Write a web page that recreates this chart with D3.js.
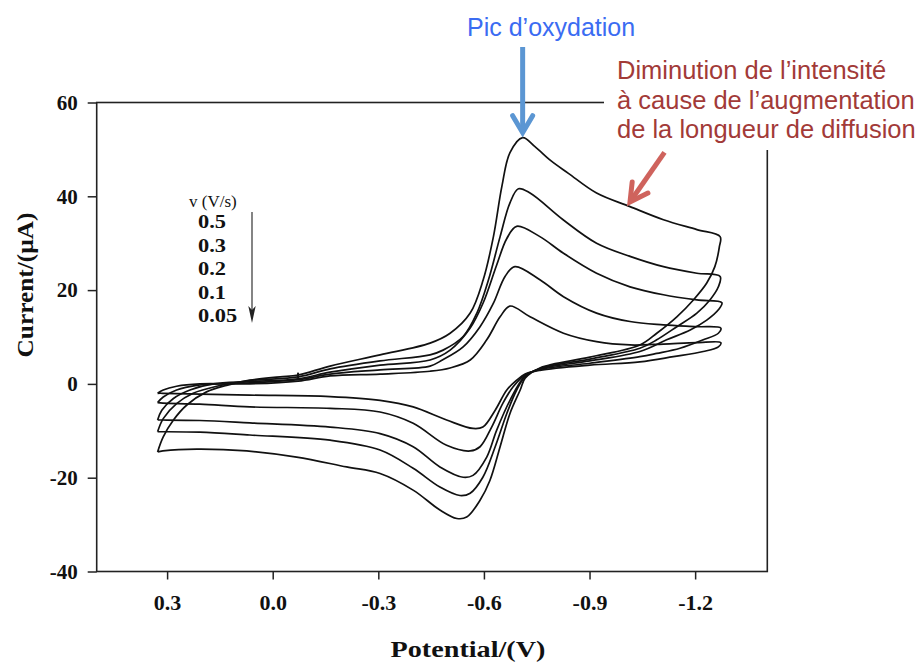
<!DOCTYPE html>
<html><head><meta charset="utf-8">
<script src="https://cdn.jsdelivr.net/npm/d3@7"></script>
<style>body{margin:0;background:#fff} svg{display:block}</style>
</head><body>
<svg id="c" width="921" height="662"></svg>
<script>
// ---- data (potential V, current µA), each loop traced around the cycle ----
const scanRates = ["0.5", "0.3", "0.2", "0.1", "0.05"];
const cv050 = [[0.327,-14.5],[0.311,-11.3],[0.282,-7.7],[0.244,-4.5],[0.188,-1.7],[0.131,-0.3],[0.065,0.8],[-0.021,1.5],[-0.072,1.9],[-0.163,3.8],[-0.305,6.2],[-0.447,8.7],[-0.504,10.8],[-0.561,15.1],[-0.598,22.2],[-0.627,31.4],[-0.651,42.1],[-0.674,49.3],[-0.710,52.5],[-0.745,50.6],[-0.790,47.6],[-0.840,44.9],[-0.920,40.7],[-1.015,37.8],[-1.110,35.0],[-1.205,32.9],[-1.271,31.4],
  [-1.269,29.3],[-1.256,25.0],[-1.233,21.5],[-1.195,17.9],[-1.148,14.3],[-1.091,10.8],[-1.043,8.3],[-0.901,5.7],[-0.759,3.4],[-0.717,1.2],[-0.703,-1.3],[-0.674,-6.3],[-0.646,-13.4],[-0.617,-20.6],[-0.589,-24.8],[-0.551,-28.4],[-0.523,-28.7],[-0.475,-26.9],[-0.400,-22.7],[-0.305,-19.1],[-0.210,-17.7],[-0.068,-15.6],[0.074,-14.3],[0.216,-13.9],[0.312,-14.3],[0.327,-14.5]];
const cv030 = [[0.327,-10.2],[0.311,-7.4],[0.273,-4.2],[0.226,-2.0],[0.159,-0.5],[0.065,0.7],[-0.072,1.5],[-0.163,3.2],[-0.305,4.9],[-0.447,6.2],[-0.484,7.2],[-0.541,10.1],[-0.580,15.1],[-0.613,22.2],[-0.646,31.4],[-0.674,38.6],[-0.698,41.6],[-0.731,40.7],[-0.825,35.0],[-0.920,30.0],[-1.015,27.2],[-1.110,25.0],[-1.205,23.6],[-1.271,22.9],
  [-1.266,20.7],[-1.242,17.9],[-1.205,15.1],[-1.148,12.2],[-1.091,9.4],[-1.043,7.6],[-0.901,5.3],[-0.759,3.3],[-0.717,1.5],[-0.693,-1.3],[-0.665,-6.3],[-0.632,-13.4],[-0.597,-19.9],[-0.561,-23.3],[-0.532,-23.8],[-0.475,-22.0],[-0.399,-18.0],[-0.305,-14.1],[-0.163,-12.0],[0.065,-10.9],[0.207,-10.3],[0.312,-10.2],[0.327,-10.2]];
const cv020 = [[0.327,-7.7],[0.315,-5.6],[0.282,-3.1],[0.235,-1.3],[0.169,0.0],[0.065,0.5],[-0.072,1.1],[-0.163,2.5],[-0.305,4.0],[-0.447,5.1],[-0.504,7.2],[-0.561,11.9],[-0.598,17.3],[-0.636,25.3],[-0.665,31.0],[-0.693,33.6],[-0.759,31.4],[-0.825,27.9],[-0.920,23.6],[-1.015,20.7],[-1.110,19.0],[-1.205,17.9],[-1.276,17.3],
  [-1.266,15.8],[-1.233,13.6],[-1.186,11.5],[-1.119,9.4],[-1.043,6.9],[-0.901,4.9],[-0.759,3.2],[-0.717,1.7],[-0.674,-3.5],[-0.636,-9.9],[-0.608,-15.6],[-0.569,-19.5],[-0.541,-19.9],[-0.475,-17.7],[-0.399,-13.4],[-0.305,-10.6],[-0.163,-9.2],[0.065,-8.3],[0.207,-7.8],[0.312,-7.7],[0.327,-7.7]];
const cv010 = [[0.327,-4.0],[0.311,-2.8],[0.273,-1.3],[0.216,-0.3],[0.065,0.2],[-0.072,0.9],[-0.163,2.1],[-0.305,3.0],[-0.447,3.8],[-0.482,5.1],[-0.541,7.9],[-0.589,12.2],[-0.627,17.2],[-0.660,22.9],[-0.688,25.0],[-0.759,22.2],[-0.826,18.6],[-0.920,15.1],[-1.015,13.3],[-1.110,12.6],[-1.205,12.2],[-1.273,11.9],
  [-1.266,10.8],[-1.223,9.4],[-1.157,7.6],[-1.091,6.5],[-1.043,5.8],[-0.901,4.4],[-0.759,3.1],[-0.717,1.9],[-0.683,-0.6],[-0.654,-4.1],[-0.622,-9.2],[-0.589,-13.4],[-0.561,-14.3],[-0.494,-13.1],[-0.399,-8.4],[-0.305,-6.0],[-0.163,-5.2],[0.065,-4.9],[0.207,-4.3],[0.312,-4.1],[0.327,-4.0]];
const cv005 = [[0.327,-2.0],[0.311,-1.3],[0.273,-0.5],[0.207,0.0],[0.065,0.0],[-0.072,0.6],[-0.163,1.7],[-0.305,2.1],[-0.447,2.7],[-0.504,3.4],[-0.561,5.1],[-0.608,9.4],[-0.646,14.3],[-0.674,16.6],[-0.731,14.3],[-0.826,10.8],[-0.920,9.0],[-1.015,8.3],[-1.110,8.5],[-1.205,8.8],[-1.273,8.8],
  [-1.266,7.9],[-1.223,6.9],[-1.138,5.8],[-1.043,4.7],[-0.901,4.0],[-0.759,2.9],[-0.717,2.1],[-0.693,0.8],[-0.665,-1.3],[-0.632,-5.6],[-0.597,-9.2],[-0.569,-9.5],[-0.494,-7.7],[-0.399,-4.9],[-0.305,-3.5],[-0.163,-2.7],[0.065,-2.4],[0.207,-2.2],[0.312,-2.0],[0.327,-2.0]];
const startStep = [[-0.072,1.2],[-0.072,2.4]];
const xTicks = [0.3, 0.0, -0.3, -0.6, -0.9, -1.2];
const yTicks = [-40, -20, 0, 20, 40, 60];
const xTitle = "Potential/(V)";
const yTitle = "Current/(\u00B5A)";
const legendTitle = "v (V/s)";
const noteBlue = "Pic d\u2019oxydation";
const noteRed = ["Diminution de l\u2019intensit\u00E9", "\u00E0 cause de l\u2019augmentation", "de la longueur de diffusion"];

// ---- drawing ----
const svg = d3.select("#c");
const serif = "'Liberation Serif','Times New Roman',Times,serif";
const sans = "'Liberation Sans',Arial,Helvetica,sans-serif";
const x = d3.scaleLinear().domain([0.5, -1.405]).range([96.7, 767.3]);
const y = d3.scaleLinear().domain([-40, 60]).range([571.5, 102.5]);
const fmt = v => d3.format(".1f")(v).replace("\u2212", "-");

// frame
svg.append("rect").attr("x", x.range()[0]).attr("y", y.range()[1])
  .attr("width", x.range()[1] - x.range()[0]).attr("height", y.range()[0] - y.range()[1])
  .attr("fill", "none").attr("stroke", "#222").attr("stroke-width", 1.6);

const gx = svg.append("g").attr("transform", `translate(0,${y.range()[0]})`)
  .call(d3.axisBottom(x).tickValues(xTicks).tickFormat(fmt).tickSize(8).tickPadding(14.5));
const gy = svg.append("g").attr("transform", `translate(${x.range()[0]},0)`)
  .call(d3.axisLeft(y).tickValues(yTicks).tickFormat(d => d3.format("d")(d).replace("\u2212", "-")).tickSize(9).tickPadding(10));
[gx, gy].forEach(g => {
  g.select(".domain").remove();
  g.selectAll(".tick line").attr("stroke", "#222").attr("stroke-width", 1.5);
  g.selectAll(".tick text").attr("fill", "#111").attr("font-family", serif).attr("font-weight", "bold");
});
gx.selectAll(".tick text").attr("font-size", 22);
gy.selectAll(".tick text").attr("font-size", 21);

// axis titles
svg.append("text").attr("x", 468).attr("y", 657).attr("text-anchor", "middle")
  .attr("font-family", serif).attr("font-weight", "bold").attr("font-size", 23).attr("fill", "#111")
  .attr("textLength", 155).attr("lengthAdjust", "spacingAndGlyphs").text(xTitle);
svg.append("text").attr("transform", "translate(33,285) rotate(-90)").attr("text-anchor", "middle")
  .attr("font-family", serif).attr("font-weight", "bold").attr("font-size", 23).attr("fill", "#111")
  .attr("textLength", 145).attr("lengthAdjust", "spacingAndGlyphs").text(yTitle);

// CV loops
const line = d3.line().x(d => x(d[0])).y(d => y(d[1])).curve(d3.curveCatmullRom.alpha(0.5));
const loops = [cv050, cv030, cv020, cv010, cv005];
svg.append("g").selectAll("path").data(loops).join("path")
  .attr("d", line).attr("fill", "none").attr("stroke", "#111")
  .attr("stroke-width", 1.7).attr("stroke-linejoin", "round");
svg.append("path").attr("d", d3.line().x(d => x(d[0])).y(d => y(d[1]))(startStep))
  .attr("stroke", "#111").attr("stroke-width", 2);

// legend
const lg = svg.append("g");
lg.append("text").attr("x", 189).attr("y", 207).attr("font-family", serif).attr("font-size", 17)
  .attr("fill", "#111").text(legendTitle);
lg.selectAll("text.r").data(scanRates).join("text").attr("class", "r")
  .attr("x", 198).attr("y", (d, i) => 228 + i * 23.6)
  .attr("font-family", serif).attr("font-weight", "bold").attr("font-size", 19).attr("fill", "#111")
  .text(d => d)
  .each(function () {
    const w = this.getComputedTextLength();
    d3.select(this).attr("textLength", w * 1.18).attr("lengthAdjust", "spacingAndGlyphs");
  });
lg.append("line").attr("x1", 252).attr("x2", 252).attr("y1", 212).attr("y2", 312)
  .attr("stroke", "#333").attr("stroke-width", 1.2);
lg.append("path").attr("d", "M248.3,306 L252,323 L255.7,306 L252,310 Z").attr("fill", "#222");

// annotations: white box over the chart's top right
svg.append("rect").attr("x", 604).attr("y", 0).attr("width", 317).attr("height", 150).attr("fill", "#fff");

const peak = cv050.reduce((a, b) => b[1] > a[1] ? b : a);
const px = x(peak[0]), tipY = y(peak[1]) - 3;
svg.append("text").attr("x", 467).attr("y", 36).attr("font-family", sans).attr("font-size", 25)
  .attr("fill", "#3b6cf2").text(noteBlue);
svg.append("line").attr("x1", px).attr("x2", px).attr("y1", 47).attr("y2", tipY - 3)
  .attr("stroke", "#5b96d3").attr("stroke-width", 5);
svg.append("path").attr("d", `M${px - 10},${tipY - 19} L${px},${tipY - 2} L${px + 10},${tipY - 19}`)
  .attr("fill", "none").attr("stroke", "#5b96d3").attr("stroke-width", 5)
  .attr("stroke-linecap", "round").attr("stroke-linejoin", "miter");

svg.append("g").selectAll("text").data(noteRed).join("text")
  .attr("x", 617).attr("y", (d, i) => 79 + i * 29.5)
  .attr("font-family", sans).attr("font-size", 25.5).attr("fill", "#a23a38").text(d => d);

// red arrow pointing at the decaying tail of the fastest scan
const tx = x(-1.015), ty = y(38.8);
const sx = tx + 34.5, sy = ty - 49.5;
const ang = Math.atan2(ty - sy, tx - sx);
const hl = 20, ha = 0.5;
const h1 = [tx - hl * Math.cos(ang - ha), ty - hl * Math.sin(ang - ha)];
const h2 = [tx - hl * Math.cos(ang + ha), ty - hl * Math.sin(ang + ha)];
svg.append("line").attr("x1", sx).attr("y1", sy).attr("x2", tx - 2 * Math.cos(ang)).attr("y2", ty - 2 * Math.sin(ang))
  .attr("stroke", "#cf635d").attr("stroke-width", 5);
svg.append("path").attr("d", `M${h1[0]},${h1[1]} L${tx},${ty} L${h2[0]},${h2[1]}`)
  .attr("fill", "none").attr("stroke", "#cf635d").attr("stroke-width", 5)
  .attr("stroke-linecap", "round");
</script>
</body></html>
